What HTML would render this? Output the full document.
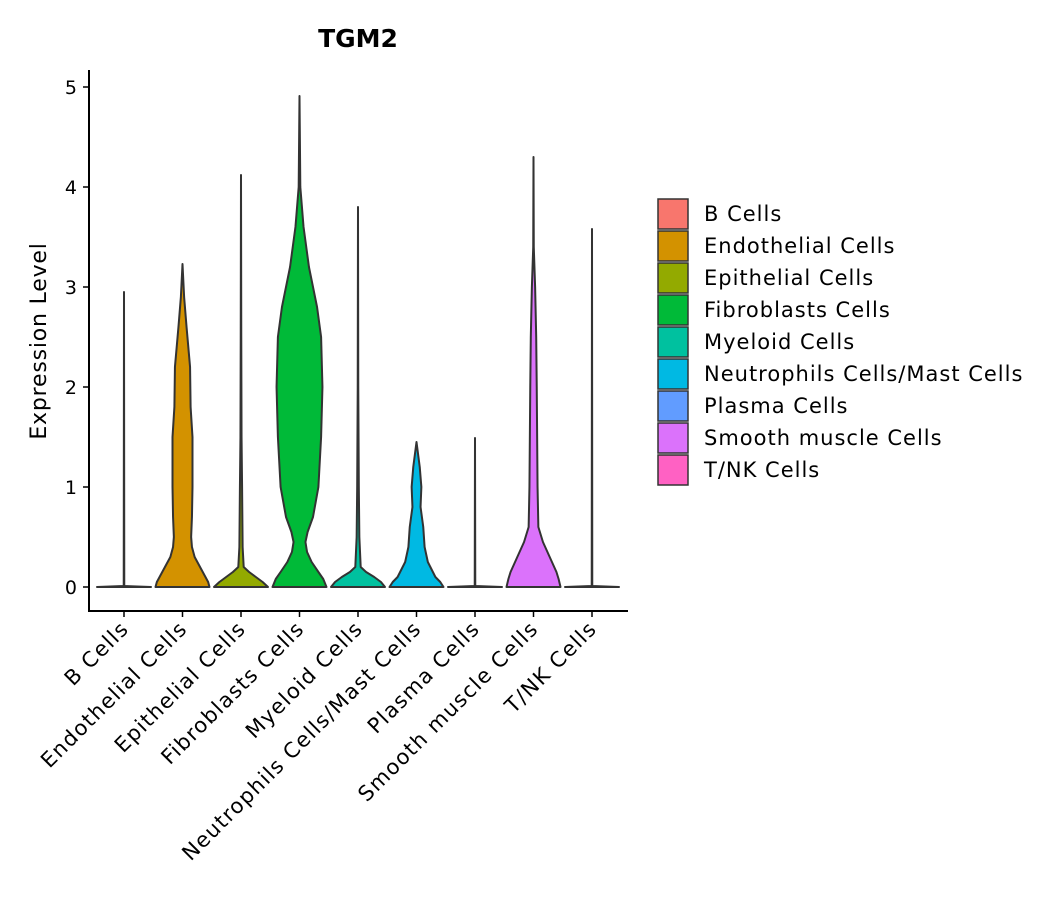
<!DOCTYPE html>
<html><head><meta charset="utf-8"><style>
body{margin:0;background:#fff;}
svg text{font-family:"DejaVu Sans","Liberation Sans",sans-serif;fill:#000;}
</style></head><body>
<svg id="chart" width="1057" height="900">
<text x="358" y="47" text-anchor="middle" font-size="25" font-weight="bold">TGM2</text>
<text transform="translate(46,341) rotate(-90)" text-anchor="middle" font-size="22" letter-spacing="0.8">Expression Level</text>
<g id="plot"></g>
<g id="legend"></g>
</svg>
<script>
const categories=["B Cells","Endothelial Cells","Epithelial Cells","Fibroblasts Cells","Myeloid Cells","Neutrophils Cells/Mast Cells","Plasma Cells","Smooth muscle Cells","T/NK Cells"];
const colors=["#F8766D","#D39200","#93AA00","#00BA38","#00C19F","#00B9E3","#619CFF","#DB72FB","#FF61C3"];
const yTicks=[0,1,2,3,4,5];
const levels=[
 [0,0.01,0.02,2.95],
 [0,0.05,0.1,0.2,0.3,0.4,0.5,0.7,1.0,1.5,1.8,2.2,2.6,2.9,3.23],
 [0,0.05,0.1,0.15,0.2,0.4,1.0,1.5,2.5,4.12],
 [0,0.08,0.15,0.25,0.35,0.45,0.55,0.7,1.0,1.5,2.0,2.5,2.8,3.2,3.6,4.0,4.91],
 [0,0.05,0.1,0.15,0.2,0.5,1.0,2.0,3.8],
 [0,0.05,0.1,0.25,0.4,0.6,0.8,1.0,1.2,1.45],
 [0,0.01,0.02,1.49],
 [0,0.08,0.15,0.3,0.45,0.6,1.0,2.0,2.5,3.0,3.4,4.3],
 [0,0.01,0.02,3.58]];
const widths=[
 [1,0.02,0.01,0],
 [1,0.95,0.85,0.65,0.45,0.35,0.32,0.35,0.37,0.37,0.3,0.28,0.15,0.06,0],
 [1,0.8,0.55,0.3,0.1,0.06,0.04,0.02,0.01,0],
 [1,0.88,0.7,0.45,0.28,0.22,0.3,0.5,0.7,0.8,0.85,0.8,0.65,0.35,0.15,0.03,0],
 [1,0.85,0.6,0.3,0.1,0.05,0.03,0.01,0],
 [1,0.88,0.7,0.42,0.3,0.25,0.15,0.18,0.12,0],
 [1,0.02,0.01,0],
 [1,0.93,0.85,0.6,0.35,0.18,0.15,0.12,0.1,0.06,0.01,0],
 [1,0.02,0.01,0]];
const NS="http://www.w3.org/2000/svg";
const plot=document.getElementById('plot'),leg=document.getElementById('legend');
const yS=v=>587-v*100;
const xS=i=>124+i*58.5;
const HW=27;
function mk(t,a,p){const e=document.createElementNS(NS,t);for(const k in a)e.setAttribute(k,a[k]);p.appendChild(e);return e;}
let ax=mk('line',{x1:89,y1:70,x2:89,y2:611,stroke:'#000','stroke-width':2},plot);


let bx=mk('line',{x1:88,y1:611,x2:628,y2:611,stroke:'#000','stroke-width':2},plot);


yTicks.forEach(t=>{
 const l=mk('line',{x1:83,x2:89,y1:yS(t),y2:yS(t),stroke:'#000','stroke-width':1.5},plot);
 
 
 const tx=mk('text',{x:77,y:yS(t)+7,'text-anchor':'end','font-size':19},plot);tx.textContent=t;
 
 
});
categories.forEach((c,i)=>{
 const cx=xS(i);
 const L=levels[i],W=widths[i];
 let pts=[];
 for(let k=0;k<L.length;k++)pts.push((cx+W[k]*HW)+','+yS(L[k]));
 for(let k=L.length-1;k>=0;k--)pts.push((cx-W[k]*HW)+','+yS(L[k]));
 const v=mk('polygon',{points:pts.join(' '),fill:colors[i],stroke:'#333','stroke-width':2,'stroke-linejoin':'round'},plot);
 
 
 const tk=mk('line',{x1:cx,x2:cx,y1:611,y2:617,stroke:'#000','stroke-width':1.5},plot);
 
 
 const tx=mk('text',{transform:`translate(${cx+6},${630}) rotate(-45)`,'text-anchor':'end','font-size':21,'letter-spacing':1.3},plot);tx.textContent=c;
 
 
 const r=mk('rect',{x:658,y:199+i*32,width:30,height:30,fill:colors[i],stroke:'#333','stroke-width':1.5},leg);
 
 
 const lt=mk('text',{x:704,y:221+i*32,'font-size':21,'letter-spacing':1},leg);lt.textContent=c;
 
 
});
</script>
</body></html>
